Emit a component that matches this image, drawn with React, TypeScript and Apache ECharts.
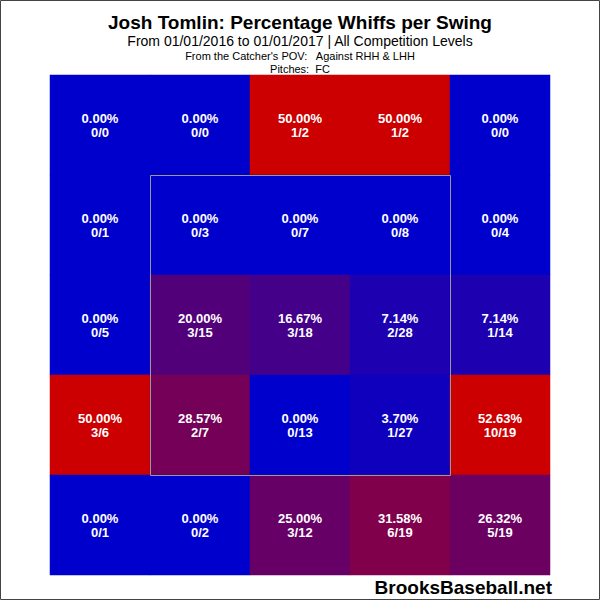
import React, { useEffect, useRef } from "react";
import * as echarts from "echarts";

const xCats = ["1", "2", "3", "4", "5"];
const yCats = ["1", "2", "3", "4", "5"]; // bottom to top
// rows listed top to bottom
const pctRows = [
  [0.0, 0.0, 50.0, 50.0, 0.0],
  [0.0, 0.0, 0.0, 0.0, 0.0],
  [0.0, 20.0, 16.67, 7.14, 7.14],
  [50.0, 28.57, 0.0, 3.7, 52.63],
  [0.0, 0.0, 25.0, 31.58, 26.32],
];
const whiffRows = [
  [0, 0, 1, 1, 0],
  [0, 0, 0, 0, 0],
  [0, 3, 3, 2, 1],
  [3, 2, 0, 1, 10],
  [0, 0, 3, 6, 5],
];
const swingRows = [
  [0, 0, 2, 2, 0],
  [1, 3, 7, 8, 4],
  [5, 15, 18, 28, 14],
  [6, 7, 13, 27, 19],
  [1, 2, 12, 19, 19],
];

const titleText = "Josh Tomlin: Percentage Whiffs per Swing";
const subText = "From 01/01/2016 to 01/01/2017 | All Competition Levels";
const povText = "From the Catcher's POV:   Against RHH & LHH";
const pitchText = "Pitches:  FC";
const brandText = "BrooksBaseball.net";

export default function App() {
  const ref = useRef<HTMLDivElement>(null);
  useEffect(() => {
    document.body.style.margin = "0";
    if (!ref.current) return;
    const chart = echarts.init(ref.current, null, { renderer: "svg" });
    const data: any[] = [];
    pctRows.forEach((row, r) => {
      row.forEach((p, c) => {
        data.push({
          value: [c, 4 - r, p],
          whiffs: whiffRows[r][c],
          swings: swingRows[r][c],
        });
      });
    });
    const font = "Liberation Sans, Arial, sans-serif";
    chart.setOption({
      animation: false,
      backgroundColor: "#ffffff",
      textStyle: { fontFamily: font },
      title: [
        {
          text: titleText,
          left: "center",
          top: 13,
          padding: 0,
          textStyle: { fontSize: 19, fontWeight: "bold", color: "#000", fontFamily: font },
        },
        {
          text: subText,
          left: "center",
          top: 34,
          padding: 0,
          textStyle: { fontSize: 14, fontWeight: "normal", color: "#000", fontFamily: font },
        },
        {
          text: povText,
          left: "center",
          top: 50,
          padding: 0,
          textStyle: { fontSize: 11, fontWeight: "normal", color: "#000", fontFamily: font },
        },
        {
          text: pitchText,
          left: "center",
          top: 63,
          padding: 0,
          textStyle: { fontSize: 11, fontWeight: "normal", color: "#000", fontFamily: font },
        },
      ],
      grid: { left: 50, top: 75, width: 500, height: 500 },
      xAxis: {
        type: "category",
        data: xCats,
        show: false,
      },
      yAxis: {
        type: "category",
        data: yCats,
        show: false,
      },
      visualMap: {
        show: false,
        type: "continuous",
        min: 0,
        max: 50,
        dimension: 2,
        inRange: { color: ["#0000CC", "#CC0000"] },
      },
      series: [
        {
          type: "heatmap",
          data,
          itemStyle: { borderWidth: 0 },
          label: {
            show: true,
            color: "#ffffff",
            fontWeight: "bold",
            fontSize: 13,
            fontFamily: font,
            lineHeight: 14,
            formatter: (p: any) =>
              p.value[2].toFixed(2) + "%\n" + p.data.whiffs + "/" + p.data.swings,
          },
          emphasis: { disabled: true },
        },
      ],
      graphic: [
        {
          type: "rect",
          shape: { x: 150.5, y: 175.5, width: 300, height: 300 },
          style: { fill: "none", stroke: "#999999", lineWidth: 1 },
          z: 100,
        },
        {
          type: "text",
          right: 48,
          top: 578,
          style: {
            text: brandText,
            font: "bold 19px Liberation Sans, Arial, sans-serif",
            fill: "#000",
          },
          z: 100,
        },
        {
          type: "rect",
          shape: { x: 0.5, y: 0.5, width: 599, height: 599 },
          style: { fill: "none", stroke: "#444444", lineWidth: 1 },
          z: 100,
        },
      ],
    });
    return () => chart.dispose();
  }, []);
  return <div ref={ref} style={{ width: 600, height: 600 }} />;
}
